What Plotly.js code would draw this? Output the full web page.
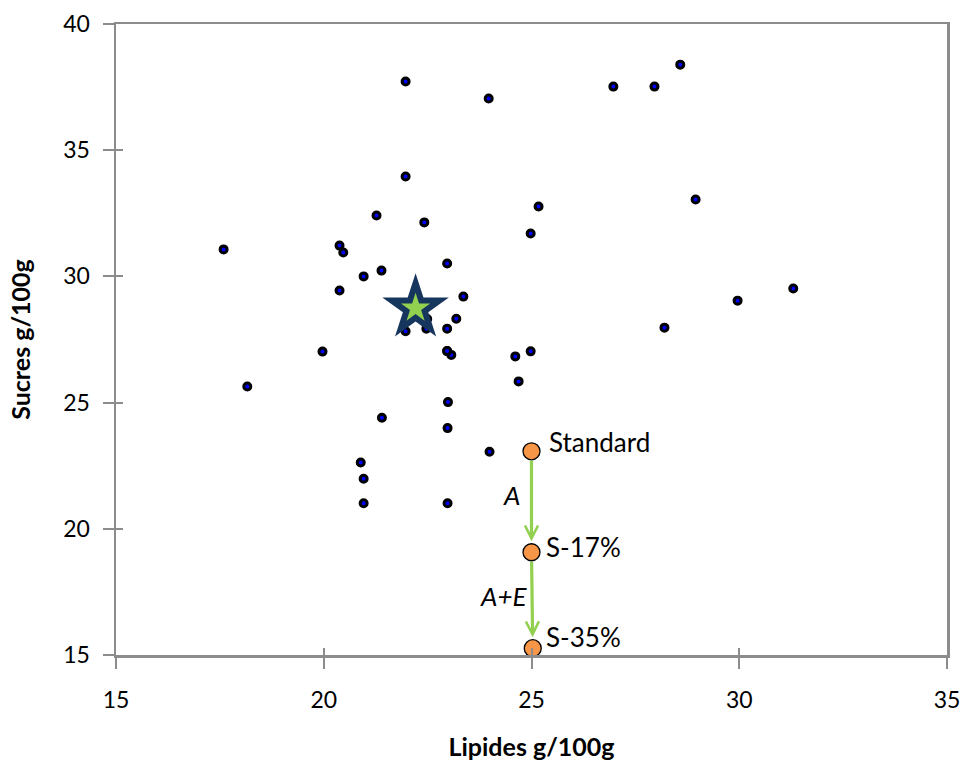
<!DOCTYPE html>
<html>
<head>
<meta charset="utf-8">
<script src="https://cdn.plot.ly/plotly-3.0.1.min.js"></script>
<style>html,body{margin:0;padding:0;background:#fff;}#chart{width:965px;height:765px;}</style>
</head>
<body>
<div id="chart"></div>
<script>
// Market products: lipids (x) and sugars (y), g/100g
const lipides = [17.59, 18.16, 19.97, 20.38, 20.47, 20.38, 20.96, 21.27, 21.39, 21.97, 21.97,
  22.42, 21.97, 22.49, 22.49, 22.47, 22.97, 22.97, 22.97, 23.07, 23.19, 23.36, 22.97,
  23.97, 21.40, 22.99, 22.98, 23.99, 20.89, 20.96, 20.96, 22.98, 24.98, 25.17, 24.61,
  24.98, 24.69, 26.97, 27.96, 28.58, 28.95, 29.96, 28.20, 31.30];
const sucres = [31.07, 25.64, 27.02, 31.22, 30.95, 29.44, 30.00, 32.41, 30.23, 33.96, 37.72,
  32.14, 27.83, 28.89, 28.31, 27.93, 27.93, 30.51, 27.04, 26.89, 28.32, 29.20, 27.04,
  37.05, 24.40, 25.02, 23.99, 23.05, 22.63, 21.98, 21.01, 21.01, 31.70, 32.77, 26.83,
  27.03, 25.84, 37.52, 37.52, 38.39, 33.05, 29.04, 27.97, 29.52];

// Market average (star)
const moyLipides = [22.21];
const moySucres = [28.74];

// Formulations
const formNoms = ["Standard", "S-17%", "S-35%"];
const formLipides = [25.0, 25.0, 25.03];
const formSucres = [23.07, 19.07, 15.27];
const etapes = ["A", "A+E"];

const xTicks = [15, 20, 25, 30, 35];
const yTicks = [15, 20, 25, 30, 35, 40];

const FONT = "Lato, 'Liberation Sans', sans-serif";

const traces = [
  {
    x: lipides, y: sucres, type: "scatter", mode: "markers",
    marker: {size: 7, color: "#0000ff", line: {color: "#000000", width: 3}},
    hoverinfo: "x+y"
  },
  {
    x: moyLipides, y: moySucres, type: "scatter", mode: "markers",
    marker: {symbol: "star", size: 50, color: "#17365d", line: {width: 0}}
  },
  {
    x: moyLipides, y: moySucres, type: "scatter", mode: "markers",
    marker: {symbol: "star", size: 22, color: "#92d050", line: {width: 0}}
  },
  {
    x: formLipides, y: formSucres, type: "scatter", mode: "markers",
    marker: {size: 17, color: "#f79646", line: {color: "#000000", width: 1.3}},
    cliponaxis: false
  },
  // invisible trace to carry the inner tick axes
  {x: [], y: [], type: "scatter", mode: "markers", xaxis: "x2", yaxis: "y2", showlegend: false}
];

const annotations = [];
const etapeShift = [[-10, 7], [-3, 4]];
for (let i = 0; i < formNoms.length - 1; i++) {
  annotations.push({
    x: formLipides[i + 1], y: formSucres[i + 1], xref: "x", yref: "y",
    ax: formLipides[i], ay: formSucres[i], axref: "x", ayref: "y",
    showarrow: true, arrowhead: 5, arrowsize: 0.8, arrowwidth: 3.2, arrowcolor: "#92d050",
    standoff: 11, startstandoff: 8, text: ""
  });
  annotations.push({
    x: formLipides[i], y: (formSucres[i] + formSucres[i + 1]) / 2, xref: "x", yref: "y",
    text: "<i>" + etapes[i] + "</i>", showarrow: false,
    xanchor: "right", xshift: etapeShift[i][0], yshift: etapeShift[i][1],
    font: {family: FONT, size: 26, color: "#000"}
  });
}
const lblShift = [[15, 9], [12, 5], [11, 11]];
formNoms.forEach((n, i) => {
  annotations.push({
    x: formLipides[i], y: formSucres[i], xref: "x", yref: "y",
    text: n, showarrow: false, xanchor: "left",
    xshift: lblShift[i][0], yshift: lblShift[i][1],
    font: {family: FONT, size: 26, color: "#000"}
  });
});

const axisCommon = {
  showgrid: false, zeroline: false,
  showline: true, linecolor: "#8c8c8c", linewidth: 2.5, mirror: true,
  ticks: "outside", ticklen: 11, tickwidth: 2, tickcolor: "#8c8c8c",
  tickfont: {family: FONT, size: 23, color: "#000"}
};
const innerCommon = {
  showgrid: false, zeroline: false, showline: false, showticklabels: false,
  ticks: "inside", ticklen: 7, tickwidth: 2, tickcolor: "#8c8c8c"
};

const layout = {
  width: 965, height: 765,
  margin: {l: 116, r: 18, t: 24, b: 110},
  paper_bgcolor: "#fff", plot_bgcolor: "#fff",
  showlegend: false,
  xaxis: Object.assign({}, axisCommon, {
    range: [15, 35], tickvals: xTicks, ticktext: xTicks.map(String),
    ticklabelstandoff: 12,
    title: {text: "Lipides g/100g", standoff: 27,
      font: {family: FONT, size: 25, color: "#000", weight: "bold"}}
  }),
  yaxis: Object.assign({}, axisCommon, {
    range: [15, 40], tickvals: yTicks, ticktext: yTicks.map(String),
    ticklabelstandoff: 8,
    title: {text: "Sucres g/100g", standoff: 26,
      font: {family: FONT, size: 25, color: "#000", weight: "bold"}}
  }),
  xaxis2: Object.assign({}, innerCommon, {
    overlaying: "x", anchor: "y2", side: "bottom",
    range: [15, 35], tickvals: xTicks
  }),
  yaxis2: Object.assign({}, innerCommon, {
    overlaying: "y", anchor: "x2", side: "left",
    range: [15, 40], tickvals: yTicks
  }),
  annotations: annotations
};

Plotly.newPlot("chart", traces, layout, {displayModeBar: false, staticPlot: true});
</script>
</body>
</html>
